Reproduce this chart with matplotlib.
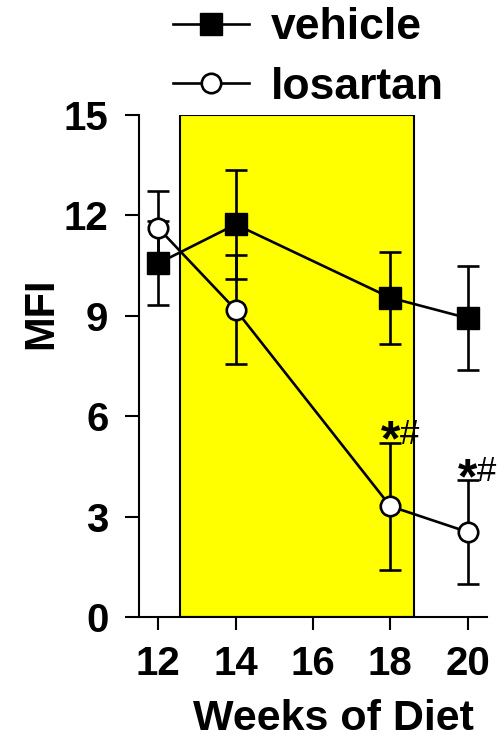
import matplotlib.pyplot as plt
from matplotlib.patches import Rectangle

plt.rcParams["font.family"] = ["Liberation Sans", "DejaVu Sans"]

weeks = [12, 14, 18, 20]
vehicle = [10.57, 11.73, 9.54, 8.93]
vehicle_err = [1.25, 1.63, 1.38, 1.55]
losartan = [11.62, 9.18, 3.31, 2.54]
losartan_err = [1.12, 1.63, 1.90, 1.55]
x_ticks = [12, 14, 16, 18, 20]
y_ticks = [0, 3, 6, 9, 12, 15]
treatment_span = (12.57, 18.61)
sig_weeks = [18, 20]

fig = plt.figure(figsize=(4.98, 7.46), dpi=100)
ax = fig.add_axes([139 / 498, 1 - 617 / 746, 348 / 498, 502 / 746])

ax.add_patch(Rectangle((treatment_span[0], 0), treatment_span[1] - treatment_span[0], 15,
                       facecolor="#FFFF00", edgecolor="black", linewidth=1.5, zorder=1))

lw = 1.9
ax.errorbar(weeks, vehicle, yerr=vehicle_err, fmt="none", ecolor="black",
            elinewidth=lw, capsize=7.9, capthick=lw, zorder=3)
ax.errorbar(weeks, losartan, yerr=losartan_err, fmt="none", ecolor="black",
            elinewidth=lw, capsize=7.9, capthick=lw, zorder=3)
h_veh, = ax.plot(weeks, vehicle, color="black", lw=lw, marker="s", markersize=15.5,
                 markerfacecolor="black", markeredgecolor="black", zorder=4, label="vehicle")
h_los, = ax.plot(weeks, losartan, color="black", lw=lw, marker="o", markersize=14,
                 markerfacecolor="white", markeredgecolor="black", markeredgewidth=lw,
                 zorder=5, label="losartan")

# significance marks above the losartan error bars
for wk in sig_weeks:
    i = weeks.index(wk)
    top = losartan[i] + losartan_err[i]
    ax.text(wk, top - 0.38, "*", ha="center", va="baseline", fontsize=36,
            fontweight="bold", zorder=6)
    ax.text(wk + 0.25, top - 0.04, "#", ha="left", va="baseline", fontsize=25, zorder=6)

ax.set_xlim(11.5, 20.5)
ax.set_ylim(0, 15)
ax.set_xticks(x_ticks)
ax.set_yticks(y_ticks)
for side in ("top", "right"):
    ax.spines[side].set_visible(False)
for side in ("left", "bottom"):
    ax.spines[side].set_linewidth(1.5)
ax.tick_params(axis="y", length=10, width=1.5, pad=12, labelsize=29)
ax.tick_params(axis="x", length=9, width=1.5, pad=11, labelsize=29)
for lab in ax.get_xticklabels() + ax.get_yticklabels():
    lab.set_fontweight("bold")

ax.set_ylabel("MFI", fontsize=30, fontweight="bold")
ax.yaxis.set_label_coords(-0.222, 0.605)
ax.set_xlabel("Weeks of Diet", fontsize=31, fontweight="bold")
ax.xaxis.set_label_coords(0.56, -0.163)

fig.legend(handles=[h_veh, h_los], loc="upper left", bbox_to_anchor=(151 / 498, 1.02),
           frameon=False, prop={"weight": "bold", "size": 32},
           handlelength=1.7, handletextpad=0.5, labelspacing=0.42, borderpad=0.0,
           markerscale=1.0)

fig.savefig("out.png", dpi=100)
